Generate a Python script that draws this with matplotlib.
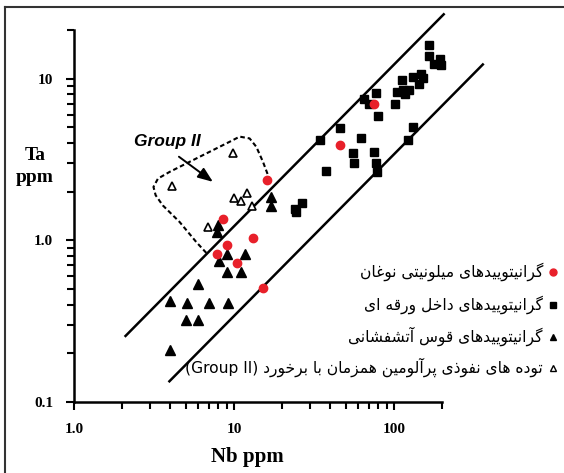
import matplotlib
matplotlib.use("Agg")
import matplotlib.pyplot as plt
from matplotlib.lines import Line2D
import numpy as np

# ---------------- data ----------------
# Noghan mylonitic granitoids (red circles)
nog_nb = [16.1, 8.5, 13.2, 9.1, 7.8, 10.4, 15.3, 75.6, 46.1]
nog_ta = [2.35, 1.35, 1.03, 0.93, 0.82, 0.725, 0.51, 6.94, 3.90]

# within-plate granitoids (black squares)
wpg_nb = [166, 166, 178, 194, 198, 147, 132, 152, 144, 113, 105, 114, 124, 117,
          102, 77, 65, 70, 80, 46, 34.4, 62, 55.6, 56, 75, 77, 78, 37.5, 132,
          122, 24.0, 24.6, 26.7]
wpg_ta = [16.1, 13.9, 12.3, 13.3, 12.1, 10.7, 10.2, 10.1, 9.25, 9.83, 8.24, 8.52,
          8.52, 8.0, 6.94, 8.13, 7.49, 6.94, 5.91, 4.93, 4.17, 4.31, 3.45, 2.99,
          3.53, 3.03, 2.63, 2.69, 5.02, 4.15, 1.57, 1.50, 1.71]

# volcanic arc granitoids (filled triangles)
vag_nb = [17.0, 17.0, 8.0, 7.8, 9.1, 11.7, 8.1, 9.1, 11.0, 6.0, 3.96, 5.1, 7.0,
          9.2, 5.0, 6.0, 3.96]
vag_ta = [1.85, 1.64, 1.24, 1.13, 0.82, 0.82, 0.74, 0.635, 0.635, 0.54, 0.42,
          0.41, 0.41, 0.41, 0.32, 0.32, 0.21]

# syn-collisional peraluminous intrusions, Group II (open triangles)
syn_nb = [9.9, 4.1, 10.0, 11.0, 12.0, 12.9, 6.9]
syn_ta = [3.45, 2.17, 1.84, 1.75, 1.97, 1.63, 1.21]

# discrimination lines: Ta = ratio * Nb over an Nb range
upper_ratio, upper_nb = 0.122, [2.1, 205]
lower_ratio, lower_nb = 0.034, [3.95, 360]

# Group II outline
grp_nb = [6.72, 5.82, 4.57, 3.59, 3.24, 3.14, 3.35, 3.96, 5.82, 9.40, 10.86,
          12.53, 13.8, 15.19, 16.8]
grp_ta = [0.836, 0.975, 1.30, 1.645, 1.90, 2.14, 2.41, 2.65, 3.21, 4.07, 4.38,
          4.27, 3.79, 3.06, 2.35]

x_ticks = [1, 10, 100]
x_ticklabels = ["1.0", "10", "100"]
y_ticks = [0.1, 1, 10]
y_ticklabels = ["0.1", "1.0", "10"]

# Persian legend labels (logical order)
lab_nog = "\u06AF\u0631\u0627\u0646\u06CC\u062A\u0648\u06CC\u06CC\u062F\u0647\u0627\u06CC \u0645\u06CC\u0644\u0648\u0646\u06CC\u062A\u06CC \u0646\u0648\u063A\u0627\u0646"
lab_wpg = "\u06AF\u0631\u0627\u0646\u06CC\u062A\u0648\u06CC\u06CC\u062F\u0647\u0627\u06CC \u062F\u0627\u062E\u0644 \u0648\u0631\u0642\u0647 \u0627\u06CC"
lab_vag = "\u06AF\u0631\u0627\u0646\u06CC\u062A\u0648\u06CC\u06CC\u062F\u0647\u0627\u06CC \u0642\u0648\u0633 \u0622\u062A\u0634\u0641\u0634\u0627\u0646\u06CC"
lab_syn = "\u062A\u0648\u062F\u0647 \u0647\u0627\u06CC \u0646\u0641\u0648\u0630\u06CC \u067E\u0631\u0622\u0644\u0648\u0645\u06CC\u0646 \u0647\u0645\u0632\u0645\u0627\u0646 \u0628\u0627 \u0628\u0631\u062E\u0648\u0631\u062F"
lab_syn_latin = "(Group II)"

# ---------------- simple Arabic-script shaping ----------------
FORMS = {
    '\u0627': ('\uFE8D', '\uFE8E', None, None),
    '\u0622': ('\uFE81', '\uFE82', None, None),
    '\u0628': ('\uFE8F', '\uFE90', '\uFE91', '\uFE92'),
    '\u067E': ('\uFB56', '\uFB57', '\uFB58', '\uFB59'),
    '\u062A': ('\uFE95', '\uFE96', '\uFE97', '\uFE98'),
    '\u062B': ('\uFE99', '\uFE9A', '\uFE9B', '\uFE9C'),
    '\u062C': ('\uFE9D', '\uFE9E', '\uFE9F', '\uFEA0'),
    '\u0686': ('\uFB7A', '\uFB7B', '\uFB7C', '\uFB7D'),
    '\u062D': ('\uFEA1', '\uFEA2', '\uFEA3', '\uFEA4'),
    '\u062E': ('\uFEA5', '\uFEA6', '\uFEA7', '\uFEA8'),
    '\u062F': ('\uFEA9', '\uFEAA', None, None),
    '\u0630': ('\uFEAB', '\uFEAC', None, None),
    '\u0631': ('\uFEAD', '\uFEAE', None, None),
    '\u0632': ('\uFEAF', '\uFEB0', None, None),
    '\u0698': ('\uFB8A', '\uFB8B', None, None),
    '\u0633': ('\uFEB1', '\uFEB2', '\uFEB3', '\uFEB4'),
    '\u0634': ('\uFEB5', '\uFEB6', '\uFEB7', '\uFEB8'),
    '\u0635': ('\uFEB9', '\uFEBA', '\uFEBB', '\uFEBC'),
    '\u0636': ('\uFEBD', '\uFEBE', '\uFEBF', '\uFEC0'),
    '\u0637': ('\uFEC1', '\uFEC2', '\uFEC3', '\uFEC4'),
    '\u0638': ('\uFEC5', '\uFEC6', '\uFEC7', '\uFEC8'),
    '\u0639': ('\uFEC9', '\uFECA', '\uFECB', '\uFECC'),
    '\u063A': ('\uFECD', '\uFECE', '\uFECF', '\uFED0'),
    '\u0641': ('\uFED1', '\uFED2', '\uFED3', '\uFED4'),
    '\u0642': ('\uFED5', '\uFED6', '\uFED7', '\uFED8'),
    '\u06A9': ('\uFB8E', '\uFB8F', '\uFB90', '\uFB91'),
    '\u06AF': ('\uFB92', '\uFB93', '\uFB94', '\uFB95'),
    '\u0644': ('\uFEDD', '\uFEDE', '\uFEDF', '\uFEE0'),
    '\u0645': ('\uFEE1', '\uFEE2', '\uFEE3', '\uFEE4'),
    '\u0646': ('\uFEE5', '\uFEE6', '\uFEE7', '\uFEE8'),
    '\u0647': ('\uFEE9', '\uFEEA', '\uFEEB', '\uFEEC'),
    '\u0648': ('\uFEED', '\uFEEE', None, None),
    '\u06CC': ('\uFBFC', '\uFBFD', '\uFBFE', '\uFBFF'),
}


def shape_rtl(s):
    out = []
    n = len(s)
    for i, c in enumerate(s):
        if c not in FORMS:
            out.append(c)
            continue
        iso, fin, ini, med = FORMS[c]
        prev = s[i - 1] if i > 0 else None
        nxt = s[i + 1] if i < n - 1 else None
        jp = prev in FORMS and FORMS[prev][2] is not None
        jn = ini is not None and nxt in FORMS
        if jp and jn:
            out.append(med)
        elif jp:
            out.append(fin)
        elif jn:
            out.append(ini)
        else:
            out.append(iso)
    return "".join(reversed(out))


# ---------------- figure ----------------
W, H = 564, 473
fig = plt.figure(figsize=(W / 100, H / 100), dpi=100)
ax = fig.add_axes([74 / W, (H - 402) / H, (442 - 74) / W, (402 - 30) / H])
ax.set_xscale("log")
ax.set_yscale("log")
ax.set_xlim(1, 200)
ax.set_ylim(0.1, 20)

red = "#e8202a"
lw_line = 1.8
for ratio, rng in [(upper_ratio, upper_nb), (lower_ratio, lower_nb)]:
    xs = np.array(rng)
    ax.plot(xs, ratio * xs, color="black", lw=lw_line, clip_on=False, zorder=2)

ax.plot(grp_nb, grp_ta, color="black", lw=1.5, ls=(0, (2.2, 1.4)), zorder=2)

ax.plot(wpg_nb, wpg_ta, ls="none", marker="s", ms=6.2, color="black",
        clip_on=False, zorder=3)
ax.plot(vag_nb, vag_ta, ls="none", marker="^", ms=6.5, color="black", zorder=3)
ax.plot(syn_nb, syn_ta, ls="none", marker="^", ms=6.0, mfc="white",
        mec="black", mew=1.2, zorder=3)
ax.plot(nog_nb, nog_ta, ls="none", marker="o", ms=6.0, color=red, zorder=4)

ax.annotate("", xy=(7.39, 2.30), xytext=(4.53, 3.29),
            arrowprops=dict(arrowstyle="-|>,head_length=0.9,head_width=0.35",
                            lw=1.4, color="black", shrinkA=0, shrinkB=0))
ax.text(2.36, 3.86, "Group II", fontfamily="Liberation Sans", fontweight="bold",
        fontstyle="italic", fontsize=12.5, ha="left", va="baseline")

for side in ["top", "right"]:
    ax.spines[side].set_visible(False)
for side in ["left", "bottom"]:
    ax.spines[side].set_linewidth(1.8)

serif_bold = dict(fontfamily="Liberation Serif", fontweight="bold", fontsize=11)
ax.set_xticks(x_ticks)
ax.set_xticklabels(x_ticklabels, **serif_bold)
ax.set_yticks(y_ticks)
ax.set_yticklabels(y_ticklabels, **serif_bold)
ax.tick_params(which="major", direction="out", length=6, width=1.5, pad=9)
ax.tick_params(which="minor", direction="out", length=5, width=1.5)
ax.yaxis.set_minor_formatter(matplotlib.ticker.NullFormatter())
ax.xaxis.set_minor_formatter(matplotlib.ticker.NullFormatter())

fig.text(35 / W, 1 - 160 / H, "Ta", ha="center", va="baseline",
         fontfamily="Liberation Serif", fontweight="bold", fontsize=14)
fig.text(35 / W, 1 - 182 / H, "ppm", ha="center", va="baseline",
         fontfamily="Liberation Serif", fontweight="bold", fontsize=14)
fig.text(247 / W, 1 - 462 / H, "Nb ppm", ha="center", va="baseline",
         fontfamily="Liberation Serif", fontweight="bold", fontsize=15)

# figure frame (left and top)
fig.add_artist(Line2D([5 / W, 5 / W], [0, 1 - 7 / H], color="#333333", lw=1.5))
fig.add_artist(Line2D([5 / W, 1], [1 - 7 / H, 1 - 7 / H], color="#333333", lw=1.5))

# legend (markers on the right, right-to-left text)
leg_y = [271.7, 305, 336.7, 367.7]
leg_text = [shape_rtl(lab_nog), shape_rtl(lab_wpg), shape_rtl(lab_vag),
            lab_syn_latin + " " + shape_rtl(lab_syn)]
leg_style = [dict(marker="o", ms=5, color=red),
             dict(marker="s", ms=4.5, color="black"),
             dict(marker="^", ms=5, color="black"),
             dict(marker="^", ms=5, mfc="white", mec="black", mew=1.0)]
texts = []
for y, t, st in zip(leg_y, leg_text, leg_style):
    fig.add_artist(Line2D([553 / W], [1 - y / H], ls="none", **st))
    texts.append(fig.text(543 / W, 1 - y / H, t, ha="right", va="center",
                          fontfamily=["DejaVu Sans"], fontsize=11))

fig.canvas.draw()
r = fig.canvas.get_renderer()
w0 = texts[0].get_window_extent(r).width
fs = 11 * 183 / w0
for t in texts:
    t.set_fontsize(fs)

fig.savefig("out.png", dpi=100)
